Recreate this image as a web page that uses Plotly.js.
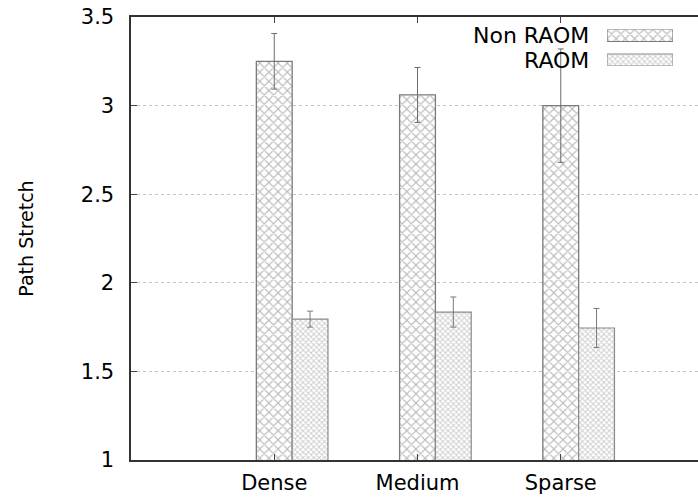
<!DOCTYPE html>
<html>
<head>
<meta charset="utf-8">
<script src="https://cdn.plot.ly/plotly-3.0.1.min.js"></script>
<style>
html,body{margin:0;padding:0;background:#fff;overflow:hidden;width:698px;height:497px;}
#chart{width:704px;height:497px;}
</style>
</head>
<body>
<div id="chart"></div>
<script>
// ---- data ----
const categories = ["Dense", "Medium", "Sparse"];
const seriesNames = ["Non RAOM", "RAOM"];
const nonRaom = [3.25, 3.06, 3.00];
const nonRaomErr = [0.157, 0.155, 0.32];
const raom = [1.795, 1.835, 1.745];
const raomErr = [0.045, 0.085, 0.11];
const yTicks = [1, 1.5, 2, 2.5, 3, 3.5];
const yTickText = ["1", "1.5", "2", "2.5", "3", "3.5"];

const FONT = "DejaVu Sans, Liberation Sans, Arial, sans-serif";
const xpos = categories.map((c, i) => i + 1);
const barW = 0.25;

const patA = {shape: "x", size: 6.5, solidity: 0.32, fgcolor: "#7a7a7a", bgcolor: "#ffffff", fillmode: "overlay"};
const patB = {shape: "x", size: 3.8, solidity: 0.42, fgcolor: "#9a9a9a", bgcolor: "#ffffff", fillmode: "overlay"};

const traces = [
  {
    type: "bar", name: seriesNames[0], x: xpos, y: nonRaom,
    width: barW, offset: -barW / 2, base: 0,
    marker: {color: "#ffffff", pattern: patA, line: {color: "#7a7a7a", width: 1.3}},
    error_y: {type: "data", array: nonRaomErr, visible: true, color: "#6e6e6e", thickness: 1, width: 3},
    showlegend: false, hoverinfo: "skip"
  },
  {
    type: "bar", name: seriesNames[1], x: xpos, y: raom,
    width: barW, offset: barW / 2, base: 0,
    marker: {color: "#ffffff", pattern: patB, line: {color: "#8a8a8a", width: 1.2}},
    error_y: {type: "data", array: raomErr, visible: true, color: "#7a7a7a", thickness: 1, width: 3},
    showlegend: false, hoverinfo: "skip"
  },
  // legend keys (drawn on a small auxiliary axis)
  {
    type: "bar", orientation: "h", x: [1], y: [1], base: 0, width: 0.49,
    xaxis: "x2", yaxis: "y2",
    marker: {color: "#ffffff", pattern: patA, line: {color: "#7a7a7a", width: 1.2}},
    showlegend: false, hoverinfo: "skip"
  },
  {
    type: "bar", orientation: "h", x: [1], y: [0], base: 0, width: 0.49,
    xaxis: "x2", yaxis: "y2",
    marker: {color: "#ffffff", pattern: patB, line: {color: "#8a8a8a", width: 1.1}},
    showlegend: false, hoverinfo: "skip"
  }
];

const L = 131, T = 17, B = 37, W = 704, H = 497;
const plotW = W - L, plotH = H - T - B;
const px2x = p => (p - L) / plotW;
const py2y = p => (H - B - p) / plotH;

const layout = {
  width: W, height: H,
  margin: {l: L, r: 0, t: T, b: B, pad: 0},
  paper_bgcolor: "#ffffff", plot_bgcolor: "#ffffff",
  barmode: "overlay",
  showlegend: false,
  font: {family: FONT, size: 21, color: "#000"},
  xaxis: {
    range: [0, 4], tickmode: "array", tickvals: xpos, ticktext: categories,
    ticks: "inside", ticklen: 6, tickcolor: "#444", tickwidth: 1,
    showline: true, linecolor: "#333", linewidth: 1.6, mirror: "ticks",
    showgrid: false, zeroline: false, ticklabelstandoff: 3,
    tickfont: {family: FONT, size: 21, color: "#000"}
  },
  yaxis: {
    range: [1, 3.5], tickmode: "array", tickvals: yTicks, ticktext: yTickText,
    ticks: "inside", ticklen: 6, tickcolor: "#444", tickwidth: 1,
    showline: true, linecolor: "#333", linewidth: 1.6, mirror: "ticks",
    showgrid: true, gridcolor: "#c4c4c4", griddash: "dot", gridwidth: 1,
    zeroline: false, ticklabelstandoff: 11,
    tickfont: {family: FONT, size: 21, color: "#000"},
    title: {text: "Path Stretch", font: {family: FONT, size: 19, color: "#000"}, standoff: 42}
  },
  xaxis2: {domain: [px2x(607), px2x(673)], range: [0, 1], anchor: "y2", visible: false, fixedrange: true},
  yaxis2: {domain: [py2y(66), py2y(29.5)], range: [-0.245, 1.245], anchor: "x2", visible: false, fixedrange: true},
  annotations: [
    {text: seriesNames[0], xref: "paper", yref: "paper", x: px2x(591), y: py2y(35.5), xanchor: "right", yanchor: "middle", showarrow: false, font: {family: FONT, size: 22, color: "#000"}},
    {text: seriesNames[1], xref: "paper", yref: "paper", x: px2x(591), y: py2y(60), xanchor: "right", yanchor: "middle", showarrow: false, font: {family: FONT, size: 22, color: "#000"}}
  ]
};

Plotly.newPlot("chart", traces, layout, {displayModeBar: false, staticPlot: true});
</script>
</body>
</html>
